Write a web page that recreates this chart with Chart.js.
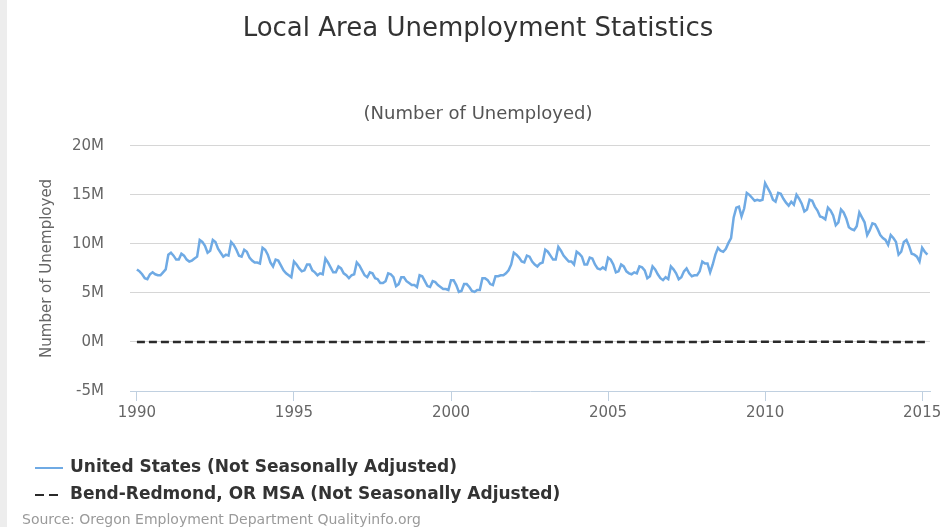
<!DOCTYPE html>
<html>
<head>
<meta charset="utf-8">
<script src="https://cdn.jsdelivr.net/npm/chart.js@4.4.1/dist/chart.umd.min.js"></script>
<style>
  html, body { margin: 0; padding: 0; background: #fff; }
  canvas { display: block; }
</style>
</head>
<body>
<canvas id="lausChart" width="946" height="527"></canvas>
<script>
// monthly values, millions, starting January 1990
const usStartYear = 1990;
const usUnemployed = [
  7.4, 7.2, 6.9, 6.5, 6.4, 6.9, 7.1, 6.9, 6.8, 6.8, 7.1, 7.4,      // 1990
  8.9, 9.1, 8.8, 8.4, 8.4, 9.0, 8.8, 8.4, 8.2, 8.3, 8.5, 8.7,      // 1991
  10.4, 10.2, 9.8, 9.1, 9.3, 10.4, 10.2, 9.5, 9.1, 8.7, 8.9, 8.8,  // 1992
  10.2, 9.9, 9.4, 8.8, 8.7, 9.4, 9.2, 8.6, 8.3, 8.1, 8.1, 8.0,     // 1993
  9.6, 9.4, 8.9, 8.1, 7.7, 8.4, 8.3, 7.8, 7.3, 7.0, 6.8, 6.6,      // 1994
  8.2, 7.9, 7.5, 7.2, 7.3, 7.9, 7.9, 7.3, 7.1, 6.8, 7.0, 6.9,      // 1995
  8.5, 8.1, 7.6, 7.1, 7.1, 7.7, 7.5, 7.0, 6.8, 6.5, 6.8, 6.9,      // 1996
  8.1, 7.8, 7.3, 6.8, 6.6, 7.1, 7.0, 6.5, 6.4, 6.0, 6.0, 6.2,      // 1997
  7.0, 6.9, 6.6, 5.7, 5.9, 6.6, 6.6, 6.2, 6.0, 5.8, 5.8, 5.6,      // 1998
  6.8, 6.7, 6.2, 5.7, 5.6, 6.2, 6.1, 5.8, 5.6, 5.4, 5.4, 5.3,      // 1999
  6.3, 6.3, 5.8, 5.1, 5.2, 5.9, 5.9, 5.6, 5.2, 5.1, 5.3, 5.3,      // 2000
  6.5, 6.5, 6.3, 5.9, 5.8, 6.7, 6.7, 6.8, 6.8, 7.0, 7.3, 7.9,      // 2001
  9.1, 8.9, 8.6, 8.2, 8.1, 8.8, 8.7, 8.2, 7.9, 7.7, 8.0, 8.1,      // 2002
  9.4, 9.2, 8.8, 8.4, 8.4, 9.7, 9.3, 8.8, 8.5, 8.2, 8.2, 7.9,      // 2003
  9.2, 9.0, 8.7, 7.9, 7.9, 8.6, 8.5, 7.9, 7.5, 7.4, 7.6, 7.4,      // 2004
  8.6, 8.4, 7.9, 7.1, 7.2, 7.9, 7.7, 7.2, 7.0, 6.9, 7.1, 7.0,      // 2005
  7.7, 7.6, 7.3, 6.5, 6.7, 7.7, 7.4, 6.9, 6.5, 6.3, 6.6, 6.4,      // 2006
  7.7, 7.4, 7.0, 6.4, 6.6, 7.2, 7.5, 7.0, 6.7, 6.8, 6.8, 7.2,      // 2007
  8.2, 8.0, 8.0, 7.1, 7.9, 8.9, 9.6, 9.3, 9.2, 9.5, 10.1, 10.6,    // 2008
  12.7, 13.7, 13.8, 12.8, 13.6, 15.2, 15.0, 14.7, 14.4, 14.5, 14.4, 14.5, // 2009
  16.2, 15.7, 15.2, 14.5, 14.3, 15.2, 15.1, 14.6, 14.2, 13.9, 14.3, 14.0, // 2010
  15.0, 14.6, 14.1, 13.3, 13.5, 14.5, 14.4, 13.8, 13.4, 12.8, 12.7, 12.5, // 2011
  13.7, 13.4, 12.9, 11.9, 12.2, 13.5, 13.2, 12.6, 11.7, 11.5, 11.4, 11.8, // 2012
  13.2, 12.7, 12.2, 10.9, 11.4, 12.1, 12.0, 11.5, 10.9, 10.6, 10.4, 9.9,  // 2013
  10.9, 10.6, 10.2, 8.9, 9.2, 10.2, 10.4, 9.8, 9.0, 8.9, 8.7, 8.2,   // 2014
  9.6, 9.2, 8.9                                                       // 2015
];

// Bend-Redmond MSA, annual points, millions
const bendYears = [1990, 1991, 1992, 1993, 1994, 1995, 1996, 1997, 1998, 1999, 2000, 2001, 2002,
                   2003, 2004, 2005, 2006, 2007, 2008, 2009, 2010, 2011, 2012, 2013, 2014, 2015.17];
const bendUnemployed = [0.0036, 0.0042, 0.0048, 0.0047, 0.0043, 0.0040, 0.0043, 0.0043, 0.0046, 0.0045,
                        0.0043, 0.0054, 0.0062, 0.0065, 0.0056, 0.0050, 0.0044, 0.0049, 0.0079, 0.0141,
                        0.0143, 0.0128, 0.0112, 0.0096, 0.0076, 0.0067];

const xTickYears = [1990, 1995, 2000, 2005, 2010, 2015];
const yTickValues = [-5, 0, 5, 10, 15, 20];

const seriesNames = ['United States (Not Seasonally Adjusted)', 'Bend-Redmond, OR MSA (Not Seasonally Adjusted)'];
const sourceText = 'Source: Oregon Employment Department Qualityinfo.org';

const FONT = '"DejaVu Sans", Verdana, sans-serif';

const usPoints = usUnemployed.map((v, i) => ({ x: usStartYear + i / 12, y: v }));
const bendPoints = bendYears.map((yr, i) => ({ x: yr, y: bendUnemployed[i] }));

// background + faint grey strip on the left edge
const bgPlugin = {
  id: 'bg',
  beforeDraw(chart) {
    const c = chart.ctx;
    c.save();
    c.fillStyle = '#ffffff';
    c.fillRect(0, 0, chart.width, chart.height);
    c.fillStyle = '#ededed';
    c.fillRect(0, 0, 7, chart.height);
    c.restore();
  }
};

// stacked legend + source line under the x axis
const legendPlugin = {
  id: 'stackedLegend',
  afterDraw(chart) {
    const c = chart.ctx;
    c.save();
    const rows = [468, 495];
    chart.data.datasets.forEach((ds, i) => {
      const y = rows[i];
      c.beginPath();
      c.strokeStyle = ds.borderColor;
      c.lineWidth = 2;
      c.setLineDash(ds.borderDash ? [9, 5] : []);
      c.moveTo(35, y);
      c.lineTo(63, y);
      c.stroke();
      c.setLineDash([]);
      c.fillStyle = '#333';
      c.font = 'bold 17px ' + FONT;
      c.textBaseline = 'middle';
      c.textAlign = 'left';
      c.fillText(ds.label, 70, y);
    });
    c.fillStyle = '#9a9a9a';
    c.font = '14px ' + FONT;
    c.textBaseline = 'middle';
    c.fillText(sourceText, 22, 520);
    c.restore();
  }
};

new Chart(document.getElementById('lausChart'), {
  type: 'line',
  data: {
    datasets: [
      {
        label: seriesNames[0],
        data: usPoints,
        borderColor: '#6faae4',
        borderWidth: 2.5,
        pointRadius: 0,
        tension: 0,
        fill: false
      },
      {
        label: seriesNames[1],
        data: bendPoints,
        borderColor: '#2a2a2a',
        borderWidth: 2.5,
        borderDash: [8, 4],
        pointRadius: 0,
        tension: 0,
        fill: false
      }
    ]
  },
  options: {
    responsive: false,
    animation: false,
    layout: { padding: { left: 26, right: 16, top: 0, bottom: 0 } },
    plugins: {
      legend: { display: false },
      tooltip: { enabled: false },
      title: {
        display: true,
        text: 'Local Area Unemployment Statistics',
        color: '#333',
        font: { family: FONT, size: 26, weight: 'normal' },
        padding: { top: 14, bottom: 58 }
      },
      subtitle: {
        display: true,
        text: '(Number of Unemployed)',
        color: '#555',
        font: { family: FONT, size: 18 },
        padding: { top: 0, bottom: 21 }
      }
    },
    scales: {
      x: {
        type: 'linear',
        min: 1989.78,
        max: 2015.25,
        afterFit: s => { s.height = 136; },
        afterBuildTicks: s => { s.ticks = xTickYears.map(v => ({ value: v })); },
        border: { display: true, color: '#c0d0e0', width: 1 },
        grid: { drawOnChartArea: false, drawTicks: true, tickLength: 10, color: '#c0d0e0' },
        ticks: {
          color: '#666',
          font: { family: FONT, size: 15 },
          padding: 3,
          maxRotation: 0,
          callback: v => String(v)
        }
      },
      y: {
        min: -5,
        max: 20,
        afterFit: s => { s.width = 104; },
        afterBuildTicks: s => { s.ticks = yTickValues.map(v => ({ value: v })); },
        border: { display: false },
        grid: {
          drawTicks: false,
          color: c => (c.tick && c.tick.value === -5) ? 'rgba(0,0,0,0)' : '#d6d6d6'
        },
        ticks: {
          color: '#666',
          font: { family: FONT, size: 15 },
          padding: 26,
          callback: v => v + 'M'
        },
        title: {
          display: true,
          text: 'Number of Unemployed',
          color: '#666',
          font: { family: FONT, size: 15 },
          padding: { top: 12, bottom: 0 }
        }
      }
    }
  },
  plugins: [bgPlugin, legendPlugin]
});
</script>
</body>
</html>
